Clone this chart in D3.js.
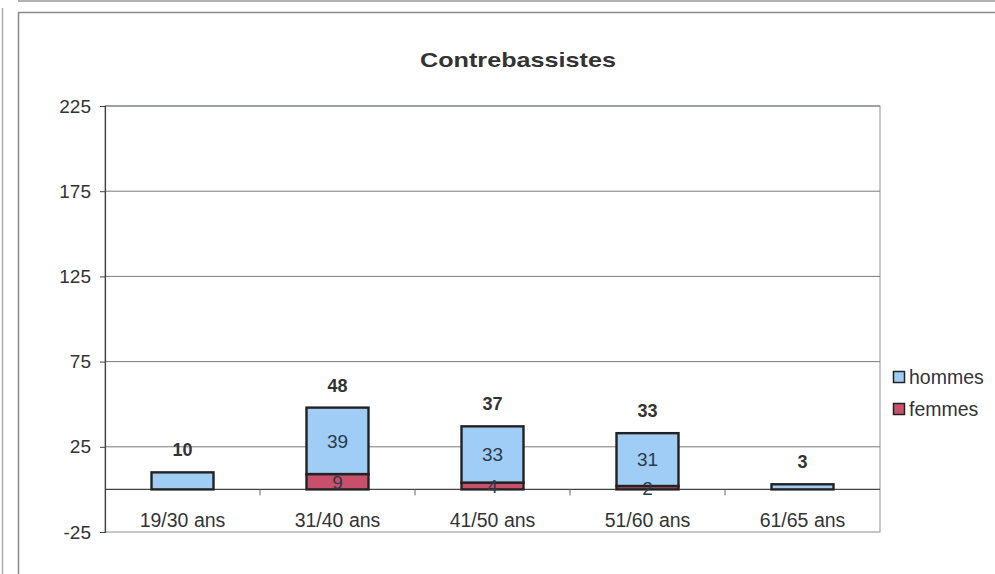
<!DOCTYPE html>
<html><head><meta charset="utf-8">
<script src="https://cdn.jsdelivr.net/npm/d3@7"></script>
<style>html,body{margin:0;padding:0;background:#fff}svg{display:block}</style>
</head><body><svg id="c" width="995" height="574"></svg>
<script>
const categories = ["19/30 ans","31/40 ans","41/50 ans","51/60 ans","61/65 ans"];
const hommes = [10,39,33,31,3];
const femmes = [0,9,4,2,0];
const totals = [10,48,37,33,3];
const yTicks = [-25,25,75,125,175,225];
const seriesNames = ["hommes","femmes"];
const seriesColors = ["#9fcdf6","#c9506c"];

const svg = d3.select("#c");
const font = "'Liberation Sans', Arial, sans-serif";
const txt = "#333";

// outer frames
svg.append("line").attr("x1",2.5).attr("x2",2.5).attr("y1",8).attr("y2",574).attr("stroke","#aaa").attr("stroke-width",1.5);
svg.append("line").attr("x1",18).attr("x2",995).attr("y1",1).attr("y2",1).attr("stroke","#999").attr("stroke-width",1.5);
svg.append("rect").attr("x",18.5).attr("y",12.5).attr("width",990).attr("height",600).attr("fill","none").attr("stroke","#8a8a8a").attr("stroke-width",1.5);

const L = 105, R = 880, T = 106, B = 532;
const x = d3.scaleBand().domain(categories).range([L,R]).paddingInner(0.6).paddingOuter(0.3);
const xb = d3.scaleBand().domain(categories).range([L,R]);
const y = d3.scaleLinear().domain([-25,225]).range([B,T]);

// plot area border
svg.append("rect").attr("x",L).attr("y",T).attr("width",R-L).attr("height",B-T)
  .attr("fill","none").attr("stroke","#9aa3ad").attr("stroke-width",1.2);

// gridlines
svg.append("g").selectAll("line").data(yTicks.filter(d=>d>-25)).join("line")
  .attr("x1",L).attr("x2",R).attr("y1",d=>y(d)).attr("y2",d=>y(d))
  .attr("stroke","#7a7a7a").attr("stroke-width",1);

// y axis
const yAxis = d3.axisLeft(y).tickValues(yTicks).tickSize(5).tickPadding(9).tickFormat(d=>String(d));
const ga = svg.append("g").attr("transform",`translate(${L},0)`).call(yAxis);
ga.select(".domain").attr("stroke","#444").attr("stroke-width",1.2);
ga.selectAll(".tick line").attr("stroke","#444");
ga.selectAll("text").attr("font-family",font).attr("font-size",19).attr("fill",txt);

// category axis at y=0
const xAxis = d3.axisBottom(xb).tickSize(0).tickPadding(0);
const gx = svg.append("g").attr("transform",`translate(0,${y(0)})`).call(xAxis);
gx.select(".domain").remove();
gx.selectAll("text").attr("font-family",font).attr("font-size",19.5).attr("fill",txt).attr("dy",null).attr("y",38);
svg.append("line").attr("x1",L).attr("x2",R).attr("y1",y(0)).attr("y2",y(0)).attr("stroke","#444").attr("stroke-width",1.2);
svg.append("g").selectAll("line").data(categories.slice(1)).join("line")
  .attr("x1",d=>xb(d)).attr("x2",d=>xb(d)).attr("y1",y(0)).attr("y2",y(0)+6)
  .attr("stroke","#666").attr("stroke-width",1);

// stacked bars
const rows = categories.map((c,i)=>({cat:c, hommes:hommes[i], femmes:femmes[i]}));
const stack = d3.stack().keys(["femmes","hommes"])(rows);
const colorOf = {hommes:seriesColors[0], femmes:seriesColors[1]};
stack.forEach(layer=>{
  svg.append("g").selectAll("rect").data(layer.filter(d=>d[1]-d[0]>0)).join("rect")
    .attr("x",d=>x(d.data.cat)).attr("width",x.bandwidth())
    .attr("y",d=>y(d[1])).attr("height",d=>y(d[0])-y(d[1]))
    .attr("fill",colorOf[layer.key]).attr("stroke","#222").attr("stroke-width",2.4);
});

// inner labels (shown when both segments present)
stack.forEach(layer=>{
  svg.append("g").selectAll("text").data(layer.filter(d=>d.data.femmes>0)).join("text")
    .attr("x",d=>x(d.data.cat)+x.bandwidth()/2)
    .attr("y",d=>(y(d[0])+y(d[1]))/2)
    .attr("dy","0.36em").attr("text-anchor","middle")
    .attr("font-family",font).attr("font-size",19).attr("fill","#2a3a4a")
    .text(d=>d[1]-d[0]);
});

// totals
svg.append("g").selectAll("text").data(categories).join("text")
  .attr("x",d=>x(d)+x.bandwidth()/2)
  .attr("y",(d,i)=>y(totals[i])-16)
  .attr("text-anchor","middle").attr("font-family",font).attr("font-weight","bold")
  .attr("font-size",18).attr("fill",txt).text((d,i)=>totals[i]);

// title
svg.append("text").attr("x",518).attr("y",67).attr("text-anchor","middle")
  .attr("font-family",font).attr("font-weight","bold").attr("font-size",21).attr("fill",txt)
  .attr("textLength",196).attr("lengthAdjust","spacingAndGlyphs").text("Contrebassistes");

// legend
const lg = svg.append("g").attr("transform","translate(893,371)");
seriesNames.forEach((s,i)=>{
  const g = lg.append("g").attr("transform",`translate(0,${i*32})`);
  g.append("rect").attr("x",0.5).attr("y",0.5).attr("width",11).attr("height",11)
    .attr("fill",seriesColors[i]).attr("stroke","#222").attr("stroke-width",1.5);
  g.append("text").attr("x",16).attr("y",6).attr("dy","0.36em")
    .attr("font-family",font).attr("font-size",19.5).attr("fill",txt).text(s);
});
</script></body></html>
